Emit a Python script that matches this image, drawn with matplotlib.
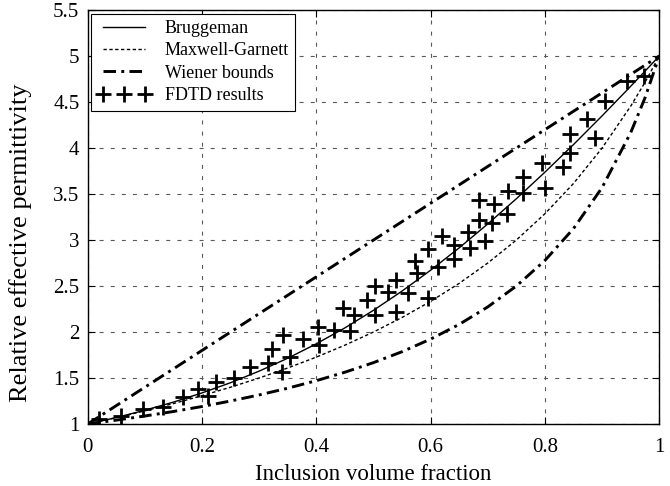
import matplotlib.pyplot as plt
from matplotlib.ticker import FuncFormatter

plt.rcParams['font.family'] = ['Liberation Serif', 'DejaVu Serif']

frac = [0, 0.05, 0.1, 0.15, 0.2, 0.25, 0.3, 0.35, 0.4, 0.45, 0.5,
        0.55, 0.6, 0.65, 0.7, 0.75, 0.8, 0.85, 0.9, 0.95, 0.975, 1.0]

bruggeman = [1.0, 1.07, 1.15, 1.238, 1.338, 1.449, 1.575, 1.715, 1.872, 2.045, 2.236,
             2.445, 2.672, 2.915, 3.175, 3.449, 3.738, 4.038, 4.35, 4.671, 4.835, 5.0]
maxwell_garnett = [1.0, 1.069, 1.143, 1.222, 1.308, 1.4, 1.5, 1.609, 1.727, 1.857, 2.0,
                   2.158, 2.333, 2.529, 2.75, 3.0, 3.286, 3.615, 4.0, 4.455, 4.714, 5.0]
wiener_upper = [1.0, 1.2, 1.4, 1.6, 1.8, 2.0, 2.2, 2.4, 2.6, 2.8, 3.0,
                3.2, 3.4, 3.6, 3.8, 4.0, 4.2, 4.4, 4.6, 4.8, 4.9, 5.0]
wiener_lower = [1.0, 1.042, 1.087, 1.136, 1.19, 1.25, 1.316, 1.389, 1.471, 1.563, 1.667,
                1.786, 1.923, 2.083, 2.273, 2.5, 2.778, 3.125, 3.571, 4.167, 4.545, 5.0]

# FDTD simulation points
fdtd_x = [0.02, 0.059, 0.097, 0.132, 0.167, 0.193, 0.211, 0.225, 0.256, 0.284,
          0.316, 0.322, 0.34, 0.341, 0.354, 0.376, 0.402, 0.405, 0.43, 0.447,
          0.459, 0.465, 0.488, 0.503, 0.503, 0.526, 0.54, 0.54, 0.561, 0.573,
          0.576, 0.596, 0.596, 0.613, 0.619, 0.64, 0.64, 0.669, 0.666, 0.684,
          0.684, 0.695, 0.707, 0.71, 0.733, 0.736, 0.762, 0.762, 0.795, 0.8,
          0.832, 0.844, 0.844, 0.873, 0.888, 0.905, 0.943, 0.973]
fdtd_y = [1.05, 1.09, 1.16, 1.19, 1.29, 1.38, 1.30, 1.46, 1.50, 1.62,
          1.66, 1.81, 1.57, 1.97, 1.73, 1.92, 2.05, 1.86, 2.02, 2.26,
          2.01, 2.18, 2.35, 2.50, 2.19, 2.44, 2.57, 2.22, 2.42, 2.77,
          2.64, 2.90, 2.37, 2.71, 3.04, 2.95, 2.79, 2.91, 3.09, 3.22,
          3.44, 2.99, 3.19, 3.39, 3.28, 3.53, 3.51, 3.69, 3.84, 3.57,
          3.79, 3.95, 4.15, 4.31, 4.11, 4.51, 4.73, 4.78]

fig = plt.figure(figsize=(6.7, 4.86), dpi=100)
ax = fig.add_axes([0.131, 0.1276, 0.853, 0.8518])

dashdot = (0, (4.3, 1.8, 1.0, 1.8))
ax.plot(frac, bruggeman, 'k-', lw=1.0, label='Bruggeman')
ax.plot(frac, maxwell_garnett, color='k', lw=1.0, linestyle=(0, (2.4, 1.8)),
        label='Maxwell-Garnett')
ax.plot(frac, wiener_upper, color='k', lw=2.1, linestyle=dashdot, label='Wiener bounds')
ax.plot(frac, wiener_lower, color='k', lw=2.1, linestyle=dashdot)
ax.plot(fdtd_x, fdtd_y, 'k+', ms=12, mew=2.0, linestyle='none', label='FDTD results')

ax.set_xlim(0, 1)
ax.set_ylim(1, 5.5)
ax.set_xticks([0, 0.2, 0.4, 0.6, 0.8, 1.0])
ax.set_yticks([1, 1.5, 2, 2.5, 3, 3.5, 4, 4.5, 5, 5.5])
ax.xaxis.set_major_formatter(FuncFormatter(lambda v, p: '%g' % v))
ax.yaxis.set_major_formatter(FuncFormatter(lambda v, p: '%g' % v))
ax.tick_params(direction='in', top=True, right=True, labelsize=15, length=5,
               width=0.8, pad=6)
ax.tick_params(axis='x', pad=10)
ax.grid(True, color='0.35', lw=0.8, linestyle=(0, (3.6, 6.4)))
for s in ax.spines.values():
    s.set_linewidth(1.0)

ax.set_xlabel('Inclusion volume fraction', fontsize=16.5, labelpad=5)
ax.set_ylabel('Relative effective permittivity', fontsize=19)
ax.yaxis.set_label_coords(-0.098, 0.437)

leg = ax.legend(loc='upper left', numpoints=3, fontsize=13, frameon=True,
                fancybox=False, edgecolor='k', framealpha=1, borderaxespad=0.2,
                handlelength=2.9, handletextpad=0.8, labelspacing=0.3,
                borderpad=0.35)
leg.get_frame().set_linewidth(0.8)

fig.savefig('out.png', dpi=100)
